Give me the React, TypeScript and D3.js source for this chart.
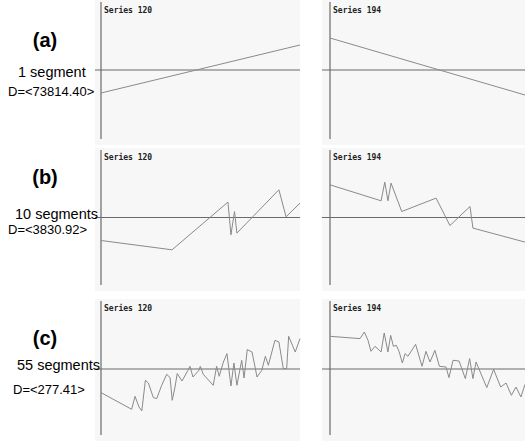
import React from 'react';
import * as d3 from 'd3';

// row labels
const rowTags = ['(a)', '(b)', '(c)'];
const segmentLabels = ['1 segment', '10 segments', '55 segments'];
const distanceLabels = ['D=<73814.40>', 'D=<3830.92>', 'D=<277.41>'];
const seriesNames = ['Series 120', 'Series 194'];

// points: [time %, value]
const a120: [number, number][] = [[0, -23], [100, 25]];
const a194: [number, number][] = [[0, 32], [100, -25]];

const b120: [number, number][] = [
    [0, -23], [35.7, -32.3], [63.8, 15.4], [65.3, -17.3], [67.1, 6], [68.3, -15.6],
    [89.4, 27.7], [93, 0.7], [100, 14.4]
];
const b194: [number, number][] = [
    [0, 32.7], [26.2, 16.7], [28.1, 35.4], [29.7, 16.7], [31.3, 34.4], [36.8, 6],
    [54.4, 19.4], [61.5, -8], [71.8, 11], [73.3, -10.6], [100, -24.6]
];

const c120: [number, number][] = [
    [0, -23.6], [15.4, -40.3], [17.1, -27.3], [19.1, -38], [20.5, -42], [22.3, -11.3],
    [23.8, -14], [26.3, -28.6], [28, -29.6], [30.5, -16.3], [33, -5.3], [34.7, -8.6],
    [35.8, -31.3], [37.2, -18], [38.3, -4.6], [40.7, -12], [43.7, -1.3], [44.7, 2.7],
    [46.2, -8], [49.2, -1.3], [49.9, 2.7], [51.4, -5.3], [56.4, -16.3], [58.1, 2.7],
    [59.4, -7.3], [61.5, 7], [63.3, 15.4], [65.3, -17], [66.8, 6], [68.3, -16.3],
    [70.7, 8.7], [71.9, -9], [73.5, 19.4], [75.9, 17], [78.4, -8], [80.8, -1.3],
    [82.6, 12.7], [84.1, 3.7], [87.4, 28.7], [89.4, 27], [91.6, 0.4], [93.3, 0.4],
    [94.3, 32.7], [97.6, 17], [100, 30.4]
];
const c194: [number, number][] = [
    [0, 32.7], [15.4, 30.4], [17.6, 37], [19.5, 28.7], [21, 17.7], [23.1, 22.7],
    [26.2, 17], [27.8, 36], [29.7, 17], [31.1, 33.7], [32.5, 22.7], [34, 23.7],
    [35.4, 17.7], [37.1, 6], [38.5, 15.4], [40, 12.7], [43.9, 24.7], [47.2, 2.7],
    [49.2, 17.7], [51.3, 7], [53.8, 18.7], [56.1, 2.7], [59.5, 2], [61, -8.6],
    [63.1, 8.7], [66.2, 8], [69.4, -9.6], [71.6, 10.4], [73.3, -9.6], [74.9, 7],
    [80.4, -18.6], [83.9, -0.3], [87.5, -18], [90.3, -14], [93, -26.3], [95.4, -18],
    [97.9, -28], [100, -15.3]
];

const rowSeries = [[a120, a194], [b120, b194], [c120, c194]];

// layout
const W = 525;
const H = 445;
const rows = [
    { top: 0, bottom: 145, zero: 70, tagY: 47, segY: 77, dY: 96, segX: 18, dX: 8, titleY: 13 },
    { top: 148, bottom: 291, zero: 217.5, tagY: 184, segY: 219, dY: 234, segX: 15, dX: 8, titleY: 160 },
    { top: 299, bottom: 441, zero: 369, tagY: 345, segY: 370, dY: 394, segX: 17, dX: 13, titleY: 311 }
];
const cols = [
    { bgLeft: 95, axisX: 101, right: 300 },
    { bgLeft: 322, axisX: 330, right: 525 }
];

const font = 'Liberation Sans, Arial, sans-serif';

const App = () => {
    return (
        <svg width={W} height={H} style={{ position: 'absolute', left: 0, top: 0, background: '#fff' }}>
            {rows.map((r, ri) => (
                <g key={ri}>
                    {cols.map((c, ci) => {
                        const x = d3.scaleLinear().domain([0, 100]).range([c.axisX, c.right]);
                        const y = d3.scaleLinear().domain([-70, 70]).range([r.zero + 70, r.zero - 70]);
                        const line = d3.line<[number, number]>()
                            .x(d => x(d[0]))
                            .y(d => y(d[1]));
                        return (
                            <g key={ci}>
                                <rect x={c.bgLeft} y={r.top} width={c.right - c.bgLeft} height={r.bottom - r.top}
                                    fill="#f7f7f7" />
                                <line x1={c.axisX} x2={c.axisX} y1={r.top + 2} y2={r.bottom - 6}
                                    stroke="#6a6a6a" strokeWidth={1.2} />
                                <line x1={c.bgLeft} x2={c.right} y1={y(0)} y2={y(0)}
                                    stroke="#6a6a6a" strokeWidth={1.2} />
                                <path d={line(rowSeries[ri][ci]) || ''} fill="none" stroke="#8a8a8a" strokeWidth={1} />
                                <text x={c.axisX + 3} y={r.titleY} fontFamily="DejaVu Sans Mono, monospace"
                                    fontWeight="bold" fontSize={8} fill="#222">{seriesNames[ci]}</text>
                            </g>
                        );
                    })}

                    {/* row labels sit on top of the panel edge */}
                    <text x={45} y={r.tagY} textAnchor="middle" fontFamily={font}
                        fontWeight="bold" fontSize={20} fill="#000">{rowTags[ri]}</text>
                    <text x={r.segX} y={r.segY} fontFamily={font}
                        fontSize={14.5} fill="#000">{segmentLabels[ri]}</text>
                    <text x={r.dX} y={r.dY} fontFamily={font}
                        fontSize={13} fill="#000">{distanceLabels[ri]}</text>
                </g>
            ))}
        </svg>
    );
};

export default App;
